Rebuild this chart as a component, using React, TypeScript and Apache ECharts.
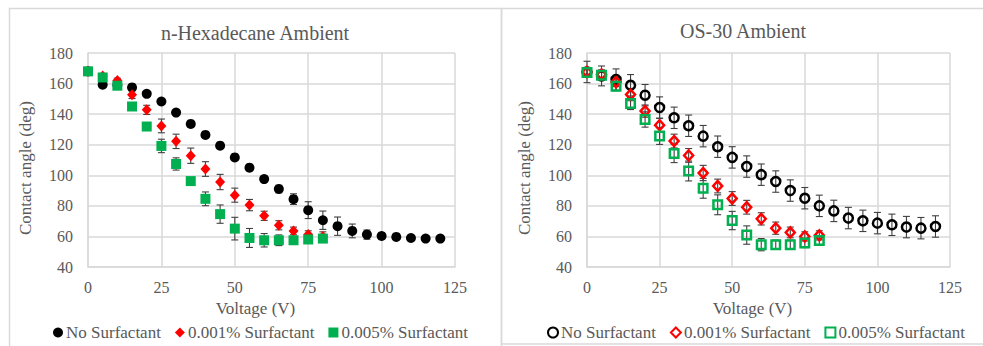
import React, { useEffect, useRef } from "react";
import * as echarts from "echarts";

// ---------- data ----------
const voltageLong = [0, 5, 10, 15, 20, 25, 30, 35, 40, 45, 50, 55, 60, 65, 70, 75, 80, 85, 90, 95, 100, 105, 110, 115, 120];
const voltageShort = [0, 5, 10, 15, 20, 25, 30, 35, 40, 45, 50, 55, 60, 65, 70, 75, 80];

const hexNo = [168, 159.2, 159, 157.5, 153.3, 148.3, 141, 133.6, 126.4, 119.4, 111.7, 105, 97.5, 91, 84.4, 77.2, 70.6, 66.7, 63.6, 61.2, 60.3, 59.7, 59, 58.6, 58.6];
const hexNoErr = [1, 1, 1, 1.5, 1.5, 1.5, 1.5, 1.5, 1.5, 1.5, 1.5, 2, 2, 2.5, 3.5, 5.5, 6, 6, 4.5, 3, 2, 1.5, 1.5, 1.5, 1.5];
const hex001 = [168, 165, 162, 152.7, 142.8, 132.3, 122.2, 112.8, 104.1, 95.6, 87, 80.5, 73.5, 67.3, 63.6, 61.2, 60];
const hex001Err = [1, 1, 1.5, 2.5, 3, 4.5, 4.7, 5, 4.8, 5, 4.6, 3.7, 3, 3, 2.5, 2.5, 3];
const hex005 = [168, 164, 158.6, 145, 131.9, 119.2, 107.4, 96.2, 84.6, 74.6, 65.1, 59, 57.5, 57.5, 57.5, 58, 58.6];
const hex005Err = [1, 1, 1, 1.5, 2, 4.4, 4, 2, 4.5, 6, 7.4, 6.2, 4.4, 3.5, 2, 2, 2];

const osNo = [167.6, 165, 162.6, 158.9, 152.4, 144.3, 137.6, 132.4, 125.6, 118.7, 111.7, 105.7, 100.4, 95.9, 90, 85, 80, 76.7, 72, 70.2, 68.7, 67.6, 66.1, 65.4, 66.5];
const osNoErr = [7, 6.5, 7, 7, 7, 7, 7, 7, 7, 7, 7, 7, 7, 7, 7, 7, 7, 7, 7, 7, 7, 7, 7, 7, 7];
const os001 = [167.6, 166, 161, 152.8, 142, 132.8, 122.4, 113, 101.5, 93, 84.8, 79.1, 71.5, 65.4, 62.6, 60, 60.7];
const os001Err = [3, 3, 3, 4, 4, 4.5, 4.5, 4.5, 5, 4.5, 4.5, 4.5, 4, 4, 3.5, 3, 3];
const os005 = [167.2, 165.4, 158.3, 147, 136.5, 125.7, 114.3, 102.8, 91.5, 80.7, 70.4, 60.9, 54.6, 54.6, 54.6, 55.7, 57.4];
const os005Err = [3, 3, 3, 4, 5, 5.5, 6, 6.5, 6.5, 6.5, 6, 6, 4, 3, 3, 3, 3];

const seriesNames = ["No Surfactant", "0.001% Surfactant", "0.005% Surfactant"];
const titles = ["n-Hexadecane Ambient", "OS-30 Ambient"];
const xName = "Voltage (V)";
const yName = "Contact angle (deg)";
const OS_SUFFIX = " (OS-30)";

// ---------- helpers ----------
const FONT = "Liberation Serif";
const TEXT = "#595959";
const GRID = "#d9d9d9";

function pts(xs: number[], ys: number[]) {
  return xs.map((x, i) => [x, ys[i]]);
}
function errPts(xs: number[], ys: number[], es: number[]) {
  return xs.map((x, i) => [x, ys[i] - es[i], ys[i] + es[i]]);
}

function errorSeries(idx: number, data: number[][]) {
  return {
    type: "custom",
    xAxisIndex: idx,
    yAxisIndex: idx,
    z: 1,
    silent: true,
    encode: { x: 0, y: [1, 2] },
    data,
    renderItem: (_p: any, api: any) => {
      const x = api.value(0);
      const lo = api.coord([x, api.value(1)]);
      const hi = api.coord([x, api.value(2)]);
      const w = 3.5;
      const style = { stroke: "#404040", lineWidth: 1.1 };
      return {
        type: "group",
        children: [
          { type: "line", shape: { x1: hi[0], y1: hi[1], x2: lo[0], y2: lo[1] }, style },
          { type: "line", shape: { x1: hi[0] - w, y1: hi[1], x2: hi[0] + w, y2: hi[1] }, style },
          { type: "line", shape: { x1: lo[0] - w, y1: lo[1], x2: lo[0] + w, y2: lo[1] }, style },
        ],
      };
    },
  };
}

function axes(idx: number) {
  const x = {
    type: "value",
    gridIndex: idx,
    min: 0,
    max: 125,
    interval: 25,
    name: xName,
    nameLocation: "middle",
    nameGap: 31,
    nameTextStyle: { color: TEXT, fontFamily: FONT, fontSize: 17, padding: [0, 32, 0, 0] },
    axisLine: { show: true, lineStyle: { color: GRID, width: 1.5 } },
    axisTick: { show: false },
    axisLabel: { color: TEXT, fontFamily: FONT, fontSize: 16, margin: 12 },
    splitLine: { show: true, lineStyle: { color: GRID, width: 1.5 } },
  };
  const y = {
    type: "value",
    gridIndex: idx,
    min: 40,
    max: 180,
    interval: 20,
    name: yName,
    nameLocation: "middle",
    nameGap: 54,
    nameTextStyle: { color: TEXT, fontFamily: FONT, fontSize: 17, padding: [0, 16, 0, 0] },
    axisLine: { show: true, lineStyle: { color: GRID, width: 1.5 } },
    axisTick: { show: false },
    axisLabel: { color: TEXT, fontFamily: FONT, fontSize: 16, margin: 15 },
    splitLine: { show: true, lineStyle: { color: GRID, width: 1.5 } },
  };
  return { x, y };
}

export default function App() {
  const ref = useRef<HTMLDivElement>(null);

  useEffect(() => {
    if (!ref.current) return;
    const chart = echarts.init(ref.current, undefined, { renderer: "svg" });
    const a0 = axes(0);
    const a1 = axes(1);
    const osNames = seriesNames.map((n) => n + OS_SUFFIX);

    const option: any = {
      animation: false,
      backgroundColor: "#ffffff",
      textStyle: { fontFamily: FONT },
      title: [
        {
          text: titles[0],
          left: 255,
          top: 23,
          textAlign: "center",
          padding: 0,
          textStyle: { color: TEXT, fontFamily: FONT, fontSize: 20, fontWeight: "normal" },
        },
        {
          text: titles[1],
          left: 743,
          top: 21,
          textAlign: "center",
          padding: 0,
          textStyle: { color: TEXT, fontFamily: FONT, fontSize: 20, fontWeight: "normal" },
        },
      ],
      graphic: [
        { type: "rect", shape: { x: 9.5, y: 8.5, width: 492, height: 345 }, style: { fill: "none", stroke: GRID, lineWidth: 1.5 }, silent: true },
        { type: "rect", shape: { x: 501.5, y: 8.5, width: 490, height: 335.5 }, style: { fill: "none", stroke: GRID, lineWidth: 1.5 }, silent: true },
      ],
      legend: [
        {
          data: seriesNames,
          left: 53,
          top: 324,
          padding: 0,
          itemWidth: 10,
          itemHeight: 10,
          itemGap: 14,
          textStyle: { color: TEXT, fontFamily: FONT, fontSize: 17, padding: [0, 0, 0, -2] },
        },
        {
          data: osNames,
          left: 547,
          top: 324,
          padding: 0,
          itemWidth: 10,
          itemHeight: 10,
          itemGap: 14,
          formatter: (n: string) => n.replace(OS_SUFFIX, ""),
          textStyle: { color: TEXT, fontFamily: FONT, fontSize: 17, padding: [0, 0, 0, -2] },
        },
      ],
      grid: [
        { left: 88, right: 528, top: 53, bottom: 79 },
        { left: 587, right: 33, top: 53, bottom: 79 },
      ],
      xAxis: [a0.x, a1.x],
      yAxis: [a0.y, a1.y],
      series: [
        errorSeries(0, errPts(voltageLong, hexNo, hexNoErr)),
        errorSeries(0, errPts(voltageShort, hex001, hex001Err)),
        errorSeries(0, errPts(voltageShort, hex005, hex005Err)),
        errorSeries(1, errPts(voltageLong, osNo, osNoErr)),
        errorSeries(1, errPts(voltageShort, os001, os001Err)),
        errorSeries(1, errPts(voltageShort, os005, os005Err)),
        {
          name: seriesNames[0],
          type: "scatter",
          xAxisIndex: 0,
          yAxisIndex: 0,
          z: 3,
          symbol: "circle",
          symbolSize: 10,
          itemStyle: { color: "#000000", opacity: 1 },
          data: pts(voltageLong, hexNo),
        },
        {
          name: seriesNames[1],
          type: "scatter",
          xAxisIndex: 0,
          yAxisIndex: 0,
          z: 3,
          symbol: "diamond",
          symbolSize: [10, 11],
          itemStyle: { color: "#ff0000", opacity: 1 },
          data: pts(voltageShort, hex001),
        },
        {
          name: seriesNames[2],
          type: "scatter",
          xAxisIndex: 0,
          yAxisIndex: 0,
          z: 3,
          symbol: "rect",
          symbolSize: 10,
          itemStyle: { color: "#00b050", opacity: 1 },
          data: pts(voltageShort, hex005),
        },
        {
          name: osNames[0],
          type: "scatter",
          xAxisIndex: 1,
          yAxisIndex: 1,
          z: 3,
          symbol: "circle",
          symbolSize: 9,
          itemStyle: { color: "rgba(0,0,0,0)", borderColor: "#000000", borderWidth: 2.5, opacity: 1 },
          data: pts(voltageLong, osNo),
        },
        {
          name: osNames[1],
          type: "scatter",
          xAxisIndex: 1,
          yAxisIndex: 1,
          z: 3,
          symbol: "diamond",
          symbolSize: [9, 10],
          itemStyle: { color: "rgba(0,0,0,0)", borderColor: "#ff0000", borderWidth: 2.5, opacity: 1 },
          data: pts(voltageShort, os001),
        },
        {
          name: osNames[2],
          type: "scatter",
          xAxisIndex: 1,
          yAxisIndex: 1,
          z: 3,
          symbol: "rect",
          symbolSize: 8.5,
          itemStyle: { color: "rgba(0,0,0,0)", borderColor: "#00b050", borderWidth: 2.5, opacity: 1 },
          data: pts(voltageShort, os005),
        },
      ],
    };
    chart.setOption(option);
    return () => chart.dispose();
  }, []);

  return (
    <div
      ref={ref}
      style={{ position: "fixed", left: 0, top: 0, width: 983, height: 346, background: "#fff" }}
    />
  );
}
